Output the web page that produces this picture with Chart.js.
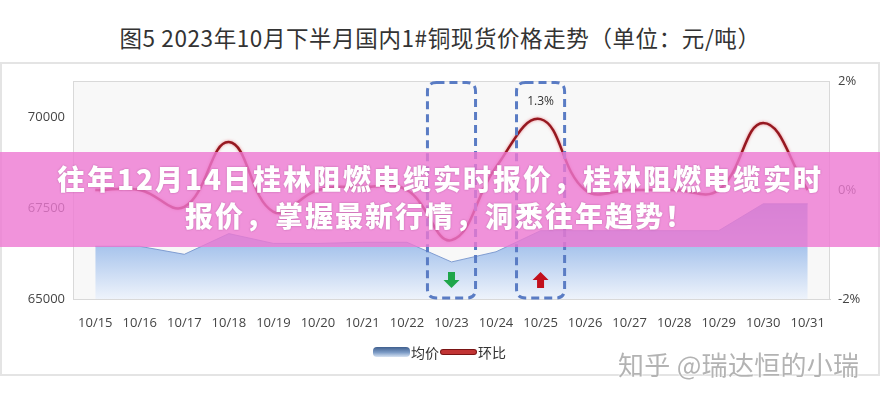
<!DOCTYPE html>
<html>
<head>
<meta charset="utf-8">
<script src="https://cdn.jsdelivr.net/npm/chart.js@4.4.1/dist/chart.umd.min.js"></script>
<style>
  html, body { margin:0; padding:0; background:#fff; }
  #wrap { position:relative; width:880px; height:400px; overflow:hidden; }
  #frame { position:absolute; left:0; top:62px; width:876px; height:310px; border:2px solid #e4e4e4; box-sizing:content-box; }
  #title { position:absolute; left:0; top:22px; width:880px; text-align:center; font-family:"Noto Sans CJK SC","Noto Sans",sans-serif; font-size:22.5px; line-height:30px; color:#333; letter-spacing:0.6px; }
  #chartBox { position:absolute; left:0; top:0; width:880px; height:400px; }
  #banner { position:absolute; left:0; top:152px; width:880px; height:95px; background:rgba(238,120,210,0.8); }
  #bannerText { position:absolute; left:0; top:160px; width:880px; text-align:center; font-family:"Noto Sans CJK SC",sans-serif; font-weight:900; font-size:28px; line-height:37px; letter-spacing:2px; color:#fff; text-shadow:0 0 2px rgba(120,40,100,0.45); }
  #legend { position:absolute; top:342px; left:0; width:880px; height:20px; font-family:"Noto Sans CJK SC",sans-serif; font-size:14px; color:#333; }
  .lg { position:absolute; top:0; line-height:20px; }
  #lgBox { position:absolute; left:373px; top:5px; width:37px; height:10px; border-radius:4px; background:linear-gradient(#3f5f8e,#7d9cc6 55%,#d6e2f2); }
  #lgLine { position:absolute; left:441px; top:8px; width:35px; height:4px; border-radius:2px; background:#c23434; box-shadow:0 0 0 1px #7a1414; }
  #zhihu { position:absolute; left:618px; top:349px; font-family:"Noto Sans CJK SC",sans-serif; font-size:26px; line-height:30px; color:#b3b3b3; letter-spacing:0.3px; text-shadow:0 0 2px #fff, 0 0 2px #fff; }
</style>
</head>
<body>
<div id="wrap">
  <div id="frame"></div>
  <div id="title">图5 2023年10月下半月国内1#铜现货价格走势（单位：元/吨）</div>
  <div id="chartBox"><canvas id="c" width="880" height="400"></canvas></div>
  <div id="banner"></div>
  <div id="bannerText">往年12月14日桂林阻燃电缆实时报价，桂林阻燃电缆实时<br>报价，掌握最新行情，洞悉往年趋势！</div>
  <div id="legend">
    <div id="lgBox"></div><div class="lg" style="left:411px">均价</div>
    <div id="lgLine"></div><div class="lg" style="left:478px">环比</div>
  </div>
  <div id="zhihu">知乎 @瑞达恒的小瑞</div>
</div>
<script>
const categories = ['10/15','10/16','10/17','10/18','10/19','10/20','10/21','10/22','10/23','10/24','10/25','10/26','10/27','10/28','10/29','10/30','10/31'];
const avgPrice   = [66450, 66450, 66230, 66800, 66530, 66530, 66560, 66560, 66020, 66300, 66880, 66880, 66880, 66880, 66880, 67620, 67620];
const momChange  = [0, 0, -0.31, 0.88, -0.40, 0, 0.05, 0, -0.92, 0.42, 1.3, 0, 0, 0, 0, 1.23, 0];
const leftTicks  = [65000, 67500, 70000];
const rightTicks = [-2, 0, 2];
const seriesNames = ['均价', '环比'];
const highlightDays = ['10/23', '10/25'];
const highlightArrows = ['down', 'up'];
const labelledDays = ['10/25'];

const decor = {
  id: 'decor',
  beforeDatasetsDraw(chart) {
    const {ctx, chartArea: a} = chart;
    ctx.save();
    ctx.fillStyle = '#f8f8f8';
    ctx.fillRect(a.left, a.top, a.right - a.left, a.bottom - a.top);
    ctx.strokeStyle = '#d9d9d9';
    ctx.lineWidth = 1;
    ctx.strokeRect(a.left + 0.5, a.top + 0.5, a.right - a.left - 1, a.bottom - a.top);
    ctx.restore();
  },
  afterDatasetsDraw(chart) {
    const {ctx, chartArea: a, scales} = chart;
    const x = scales.x;
    const half = (x.getPixelForValue(1) - x.getPixelForValue(0)) * 0.54;
    ctx.save();
    highlightDays.forEach((d, i) => {
      const idx = categories.indexOf(d);
      const cx = x.getPixelForValue(idx);
      const l = cx - half, r = cx + half, t = a.top + 1.5, b = a.bottom - 1, rad = 9;
      ctx.setLineDash([8, 5]);
      ctx.strokeStyle = '#5a7cc4';
      ctx.lineWidth = 3;
      ctx.beginPath();
      ctx.moveTo(l + rad, t);
      ctx.lineTo(r - rad, t); ctx.quadraticCurveTo(r, t, r, t + rad);
      ctx.lineTo(r, b - rad); ctx.quadraticCurveTo(r, b, r - rad, b);
      ctx.lineTo(l + rad, b); ctx.quadraticCurveTo(l, b, l, b - rad);
      ctx.lineTo(l, t + rad); ctx.quadraticCurveTo(l, t, l + rad, t);
      ctx.stroke();
      ctx.setLineDash([]);
      const top = a.bottom - 27, bot = a.bottom - 11, hw = 8, sw = 3.5, hh = 8;
      ctx.beginPath();
      if (highlightArrows[i] === 'down') {
        ctx.fillStyle = '#1fa64a';
        ctx.moveTo(cx - sw, top); ctx.lineTo(cx + sw, top); ctx.lineTo(cx + sw, bot - hh);
        ctx.lineTo(cx + hw, bot - hh); ctx.lineTo(cx, bot); ctx.lineTo(cx - hw, bot - hh);
        ctx.lineTo(cx - sw, bot - hh);
      } else {
        ctx.fillStyle = '#c2101c';
        ctx.moveTo(cx - sw, bot); ctx.lineTo(cx + sw, bot); ctx.lineTo(cx + sw, top + hh);
        ctx.lineTo(cx + hw, top + hh); ctx.lineTo(cx, top); ctx.lineTo(cx - hw, top + hh);
        ctx.lineTo(cx - sw, top + hh);
      }
      ctx.closePath();
      ctx.fill();
    });
    const meta = chart.getDatasetMeta(0);
    ctx.fillStyle = '#333';
    ctx.font = '12px "Open Sans", sans-serif';
    ctx.textAlign = 'center';
    ctx.textBaseline = 'bottom';
    labelledDays.forEach(d => {
      const idx = categories.indexOf(d);
      const p = meta.data[idx];
      ctx.fillText(momChange[idx] + '%', p.x, p.y - 12);
    });
    ctx.restore();
  },
  beforeDatasetDraw(chart, args) {
    if (args.index === 0) {
      chart.ctx.save();
      chart.ctx.shadowColor = 'rgba(230,90,100,0.7)';
      chart.ctx.shadowBlur = 3;
    }
  },
  afterDatasetDraw(chart, args) {
    if (args.index === 0) chart.ctx.restore();
  }
};

const ctx = document.getElementById('c').getContext('2d');
new Chart(ctx, {
  type: 'line',
  data: {
    labels: categories,
    datasets: [
      {
        label: seriesNames[1],
        data: momChange,
        yAxisID: 'y1',
        borderColor: '#961820',
        borderWidth: 2.5,
        tension: 0.42,
        pointRadius: 0,
        fill: false,
        order: 0
      },
      {
        label: seriesNames[0],
        data: avgPrice,
        yAxisID: 'y',
        borderColor: 'rgba(120,150,205,0.9)',
        borderWidth: 1,
        tension: 0,
        pointRadius: 0,
        fill: 'start',
        backgroundColor: (c) => {
          const a = c.chart.chartArea;
          if (!a) return '#9dbde8';
          const g = c.chart.ctx.createLinearGradient(0, a.top + 110, 0, a.bottom);
          g.addColorStop(0, '#759fdb');
          g.addColorStop(0.5, '#a6c3ec');
          g.addColorStop(1, '#eef3fb');
          return g;
        },
        order: 1
      }
    ]
  },
  options: {
    responsive: false,
    animation: false,
    layout: { padding: { top: 81, bottom: 71, left: 0, right: 0 } },
    plugins: { legend: { display: false }, tooltip: { enabled: false } },
    scales: {
      x: {
        offset: true,
        grid: { display: false },
        border: { display: true, color: '#d0d0d0' },
        ticks: { color: '#444', font: { family: 'Open Sans', size: 13 }, padding: 8, maxRotation: 0, autoSkip: false },
        afterFit(s) { s.height = 30; }
      },
      y: {
        position: 'left',
        min: 65000, max: 71000,
        grid: { display: false, drawTicks: false },
        border: { display: false },
        afterBuildTicks(s) { s.ticks = leftTicks.map(v => ({ value: v })); },
        ticks: { color: '#444', font: { family: 'Open Sans', size: 13 }, padding: 8, callback: v => String(v) },
        afterFit(s) { s.width = 73; }
      },
      y1: {
        position: 'right',
        min: -2, max: 2,
        grid: { display: false, drawTicks: false },
        border: { display: false },
        afterBuildTicks(s) { s.ticks = rightTicks.map(v => ({ value: v })); },
        ticks: { color: '#444', font: { family: 'Open Sans', size: 13 }, padding: 8, callback: v => v + '%' },
        afterFit(s) { s.width = 50; }
      }
    }
  },
  plugins: [decor]
});
</script>
</body>
</html>
